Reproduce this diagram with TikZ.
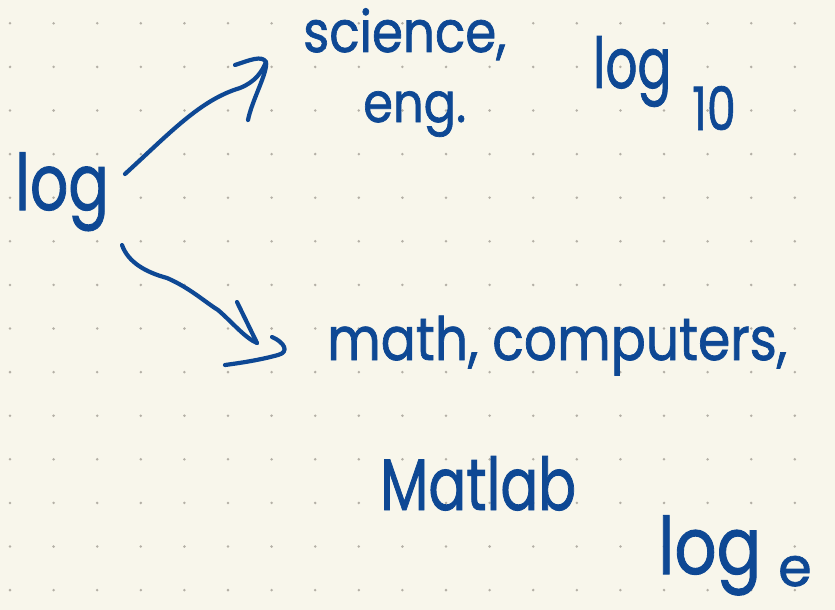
\documentclass[tikz,border=0pt]{standalone}
\usepackage{graphicx}
\usepackage{fontspec}
\setmainfont[FakeBold=1.3]{Poppins}
\definecolor{paper}{RGB}{248,246,235}
\definecolor{inkblue}{RGB}{14,72,148}
\definecolor{griddot}{RGB}{180,176,166}
% stretch a word vertically, as the pen writes tall letters
\newcommand\tallword[2][1.25]{\scalebox{1}[#1]{#2}}
\begin{document}
\begin{tikzpicture}[x=1pt,y=-1pt,
  ink/.style={draw=inkblue,line width=4.2pt,line cap=round,line join=round},
  hand/.style={text=inkblue,inner sep=0pt,anchor=base west},
  fs/.style={font=\fontsize{#1}{#1}\selectfont}]
% paper and dot grid
\fill[paper] (0,0) rectangle (835,610);
\useasboundingbox (0,0) rectangle (835,610);
\foreach \i in {0,...,18}
  \foreach \j in {0,...,13}
    \fill[griddot] (10+43.6*\i,23.3+43.6*\j) circle (1.4pt);

% words
\node[hand,fs=60] (log) at (15,210) {\tallword[1.3]{log}};
\node[hand,fs=50] (sci) at (303,52) {\tallword[1.15]{science,}};
\node[hand,fs=48] (eng) at (363,122) {\tallword[1.15]{eng.}};
\node[hand,fs=50] (logten) at (593,88) {\tallword[1.4]{log}};
\node[hand,fs=46] (ten) at (692,130) {\tallword[1.3]{10}};
\node[hand,fs=52] (math) at (327,360) {\tallword[1.15]{math, computers,}};
\node[hand,fs=56] (matlab) at (380,510) {\tallword[1.3]{Matlab}};
\node[hand,fs=66] (loge) at (658,574) {\tallword[1.2]{log}};
\node[hand,fs=54] (e) at (778,586) {e};

% arrow ends
\coordinate (up0) at (125,174);
\coordinate (up1) at (266,62);
\coordinate (dn0) at (122,245);
\coordinate (dn1) at (257,343);

% upper arrow: log -> science, eng.
\draw[ink] (up0) .. controls (170,133) and (200,100) .. (240,88)
  .. controls (255,82) and (262,72) .. (up1);
\draw[ink] (235,65) .. controls (250,60) and (262,55) .. (up1)
  .. controls (268,72) and (252,100) .. (248,120);

% lower arrow: log -> math, computers, Matlab
\draw[ink] (dn0) .. controls (128,262) and (145,272) .. (167,278)
  .. controls (190,288) and (205,302) .. (218,310)
  .. controls (232,322) and (245,338) .. (dn1);
\draw[ink] (237,302) -- (dn1);
\draw[ink] (272,337) .. controls (284,342) and (290,352) .. (278,355)
  .. controls (260,360) and (240,363) .. (225,365);
\end{tikzpicture}
\end{document}
